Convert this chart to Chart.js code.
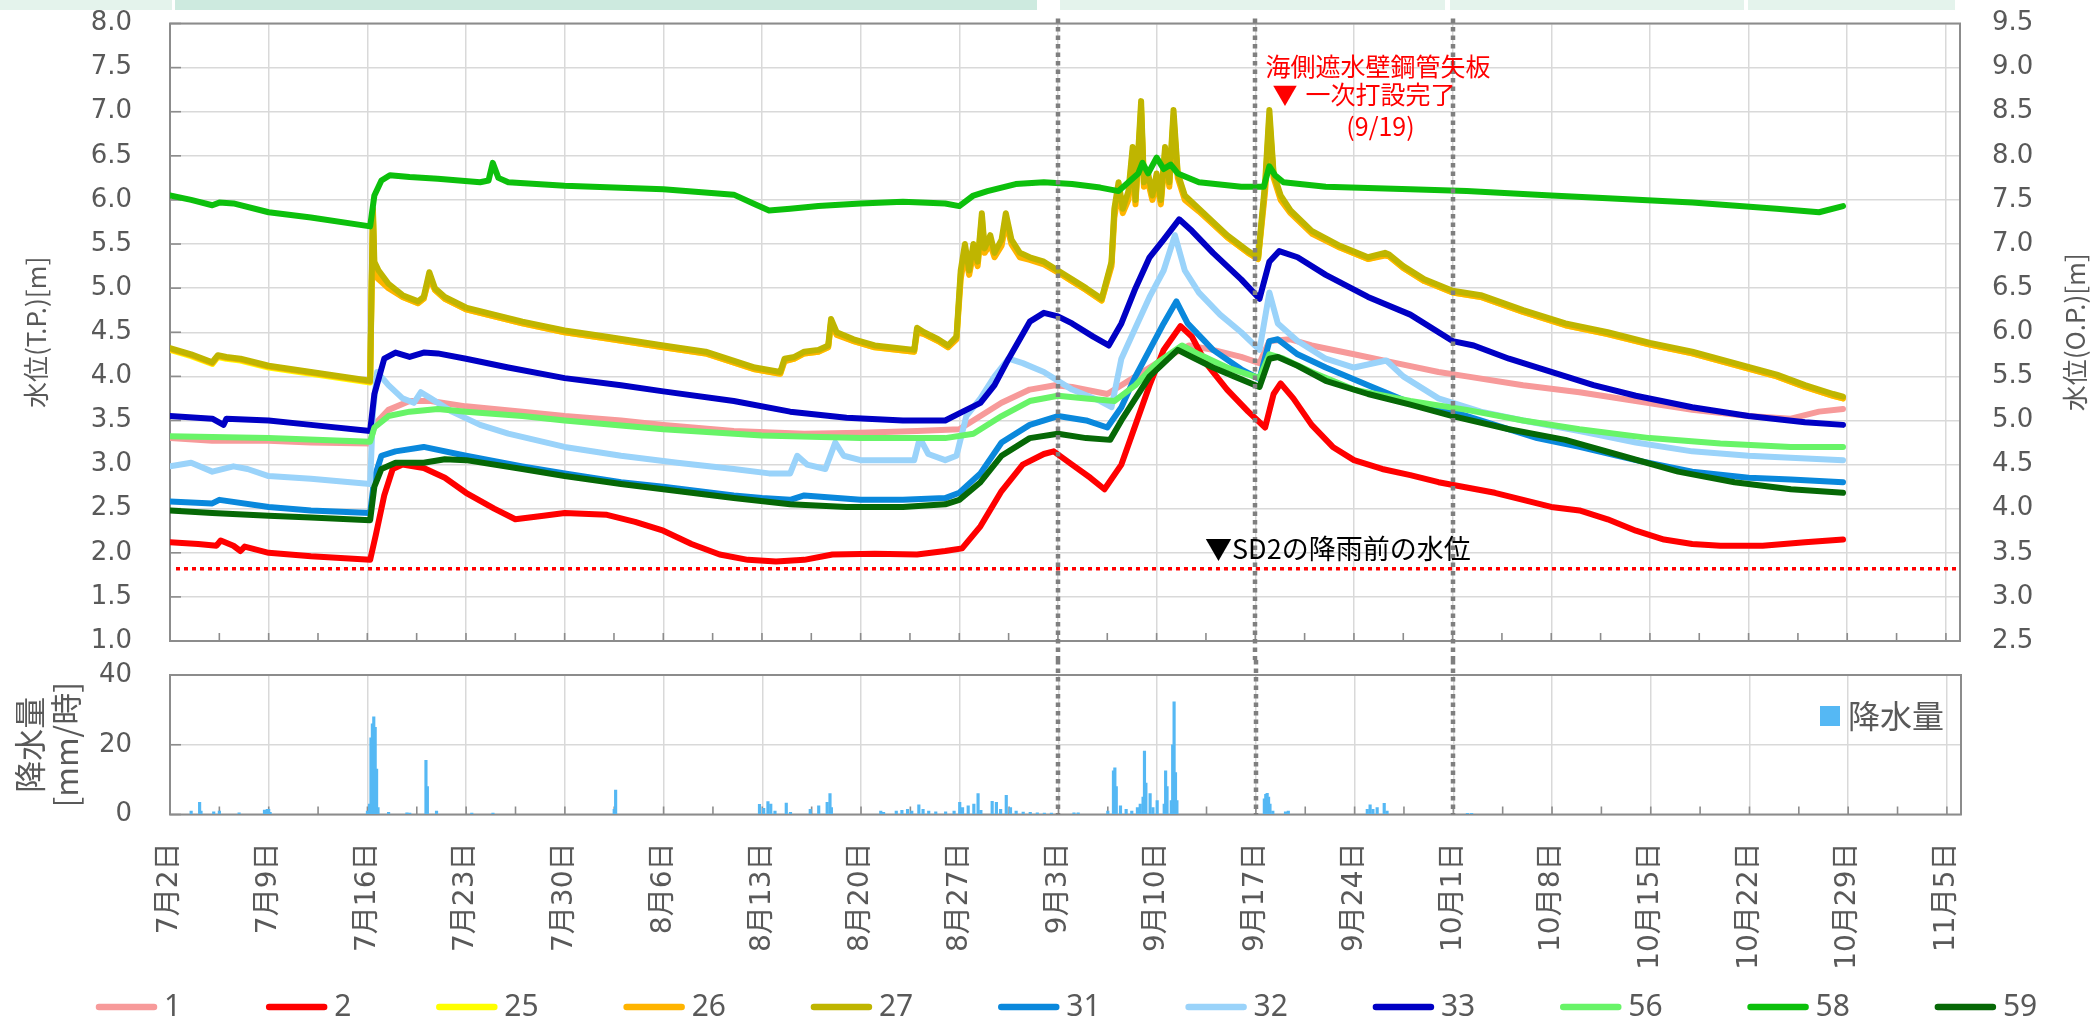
<!DOCTYPE html>
<html lang="ja">
<head>
<meta charset="utf-8">
<title>地下水位・降水量の推移</title>
<script src="https://cdn.jsdelivr.net/npm/chart.js@4.4.1/dist/chart.umd.min.js"></script>
<style>
  html, body { margin: 0; padding: 0; background: #ffffff; }
  #page { position: relative; width: 2092px; height: 1021px; overflow: hidden; background: #ffffff; }
  .band { position: absolute; top: 0; height: 10px; }
  canvas { position: absolute; left: 0; }
</style>
</head>
<body>
<div id="page">
  <div class="band" style="left:0;width:172px;background:#e4f3ec"></div>
  <div class="band" style="left:175px;width:862px;background:#cdeadf"></div>
  <div class="band" style="left:1060px;width:385px;background:#e4f3ec"></div>
  <div class="band" style="left:1450px;width:294px;background:#e4f3ec"></div>
  <div class="band" style="left:1748px;width:207px;background:#e4f3ec"></div>
  <canvas id="levelChart" width="2092" height="660" style="top:0;width:2092px;height:660px"></canvas>
  <canvas id="rainChart" width="2092" height="361" style="top:660px;width:2092px;height:361px"></canvas>
</div>
<script>
// ---- observation wells (x = days since 7/2, y = water level T.P. [m]) ----
const seriesNames  = ['1', '2', '25', '26', '27', '31', '32', '33', '56', '58', '59'];
const seriesColors = ['#f79a9a', '#ff0000', '#ffff00', '#ffb400', '#bfb500', '#0a88dc',
                      '#9ad3fa', '#0000c4', '#68f468', '#0cc00c', '#066806'];

const s1 = [[0,3.3],[3,3.27],[7,3.27],[10,3.25],[14.2,3.24],[14.5,3.45],[15.5,3.62],[17,3.72],[18.5,3.72],[21,3.66],
  [25,3.6],[28,3.55],[32,3.5],[35,3.45],[40,3.38],[45,3.35],[49,3.36],[53,3.38],[56,3.4],[57.5,3.55],[59,3.7],
  [61,3.85],[62.8,3.9],[64,3.88],[66.5,3.8],[67.5,3.9],[69,4.05],[70.5,4.2],[72.3,4.35],[74,4.3],[76,4.22],[77.3,4.15],
  [78,4.4],[79.5,4.42],[81,4.35],[84,4.25],[87,4.15],[90,4.05],[92,4.0],[96,3.9],[100,3.82],[104,3.72],[108,3.62],
  [112,3.55],[115,3.52],[117,3.6],[118.7,3.63]];

const s2 = [[0,2.12],[2,2.1],[3.3,2.08],[3.6,2.14],[4.5,2.08],[5,2.02],[5.3,2.07],[7,2.0],[10,1.96],[14.2,1.92],
  [14.6,2.2],[15.2,2.65],[15.8,2.95],[16.5,3.0],[18,2.96],[19.5,2.85],[21,2.68],[23,2.5],[24.5,2.38],[26.5,2.42],
  [28,2.45],[31,2.43],[33,2.35],[35,2.25],[37,2.1],[39,1.98],[41,1.92],[43,1.9],[45,1.92],[47,1.98],[50,1.99],
  [53,1.98],[55,2.02],[56.2,2.05],[57.5,2.3],[59,2.7],[60.5,3.0],[62,3.12],[62.7,3.15],[64,3.0],[65.3,2.85],
  [66.3,2.72],[67.5,3.0],[68.5,3.45],[69.5,3.9],[70.5,4.3],[71.7,4.57],[72.5,4.45],[73.5,4.15],[75,3.85],
  [76.5,3.6],[77.7,3.42],[78.3,3.8],[78.8,3.92],[79.7,3.75],[81,3.45],[82.5,3.2],[84,3.05],[86,2.95],[88,2.88],
  [90,2.8],[92,2.74],[94,2.68],[96,2.6],[98,2.52],[100,2.48],[102,2.38],[104,2.25],[106,2.15],[108,2.1],
  [110,2.08],[113,2.08],[116,2.12],[118.7,2.15]];

// wells 25, 26 and 27 share one logger schedule
const days27 = [0,1.5,3,3.4,4,5,7,10,14.2,14.3,
  14.4,14.5,14.8,15.5,16.5,17.6,18.0,18.4,18.8,19.5,
  21,23,25,28,31,35,38,41.5,43.3,43.6,
  44.3,45,46,46.7,46.9,47.3,48.5,50,52.8,53.0,
  53.5,54.5,55.2,55.8,56.1,56.4,56.7,57.0,57.3,57.6,
  57.8,58.2,58.5,59.0,59.3,59.7,60.3,61,62,63,
  64,65,66.1,66.8,67.0,67.3,67.6,68.0,68.3,68.5,
  68.9,69.1,69.4,69.7,70,70.3,70.6,70.9,71.2,71.5,
  72,73,75,76.5,77.2,77.7,78.0,78.3,78.8,79.5,
  81,83,85,86.2,86.5,87.5,89,91,93,96,
  99,102,105,108,111,114,116,118,118.7];
const v25 = [4.3,4.23,4.14,4.22,4.2,4.18,4.1,4.03,3.93,4.95,
  5.85,5.2,5.12,5.02,4.9,4.83,4.88,5.15,4.98,4.88,
  4.76,4.68,4.6,4.5,4.43,4.33,4.26,4.08,4.03,4.18,
  4.2,4.26,4.28,4.33,4.62,4.48,4.4,4.33,4.28,4.52,
  4.48,4.4,4.33,4.43,5.15,5.45,5.18,5.45,5.28,5.8,
  5.43,5.55,5.38,5.5,5.8,5.52,5.38,5.33,5.28,5.18,
  5.08,4.98,4.86,5.28,5.85,6.15,5.88,6.05,6.55,5.98,
  7.05,6.18,6.25,6.02,6.25,5.98,6.55,6.18,6.95,6.28,
  6.03,5.88,5.58,5.4,5.33,6.15,6.95,6.28,6.03,5.86,
  5.63,5.46,5.33,5.38,5.36,5.23,5.08,4.95,4.9,4.73,
  4.58,4.48,4.36,4.26,4.13,4.0,3.88,3.78,3.75];
const v26 = [4.31,4.24,4.15,4.23,4.21,4.19,4.11,4.04,3.94,4.9,
  5.8,5.15,5.1,5.0,4.9,4.83,4.88,5.12,4.98,4.88,
  4.76,4.68,4.6,4.5,4.43,4.33,4.26,4.08,4.03,4.17,
  4.2,4.26,4.28,4.33,4.6,4.47,4.4,4.33,4.28,4.5,
  4.48,4.4,4.33,4.42,5.1,5.4,5.15,5.4,5.25,5.7,
  5.4,5.5,5.35,5.48,5.75,5.5,5.35,5.32,5.27,5.18,
  5.08,4.98,4.86,5.25,5.8,6.1,5.85,6.0,6.5,5.95,
  7.0,6.15,6.2,6.0,6.2,5.95,6.5,6.15,6.9,6.25,
  6.0,5.87,5.58,5.4,5.33,6.1,6.9,6.25,6.0,5.85,
  5.62,5.46,5.33,5.37,5.36,5.23,5.08,4.95,4.9,4.73,
  4.58,4.48,4.36,4.26,4.13,4.0,3.88,3.78,3.75];
const v27 = [4.32,4.25,4.16,4.24,4.22,4.2,4.12,4.05,3.95,5.0,
  5.9,5.3,5.2,5.05,4.92,4.85,4.9,5.18,5.0,4.9,
  4.78,4.7,4.62,4.52,4.45,4.35,4.28,4.1,4.05,4.2,
  4.22,4.28,4.3,4.35,4.65,4.5,4.42,4.35,4.3,4.55,
  4.5,4.42,4.35,4.45,5.2,5.5,5.2,5.5,5.3,5.85,
  5.45,5.6,5.4,5.55,5.85,5.55,5.4,5.35,5.3,5.2,
  5.1,5.0,4.88,5.3,5.9,6.2,5.9,6.1,6.6,6.0,
  7.12,6.2,6.3,6.05,6.3,6.0,6.6,6.2,7.02,6.3,
  6.05,5.9,5.6,5.42,5.35,6.2,7.02,6.3,6.05,5.88,
  5.65,5.48,5.35,5.4,5.38,5.25,5.1,4.97,4.92,4.75,
  4.6,4.5,4.38,4.28,4.15,4.02,3.9,3.8,3.77];

const s31 = [[0,2.58],[3,2.56],[3.5,2.6],[7,2.52],[10,2.48],[14.2,2.45],[14.5,2.85],[15,3.1],[16,3.15],[18,3.2],
  [21,3.1],[25,2.98],[28,2.9],[32,2.8],[35,2.75],[40,2.65],[42,2.62],[44,2.6],[45,2.65],[49,2.6],[52,2.6],
  [55,2.62],[56,2.68],[57.5,2.9],[59,3.25],[61,3.45],[63,3.55],[65,3.5],[66.5,3.42],[67.5,3.65],[68.5,4.0],
  [69.5,4.3],[70.5,4.6],[71.4,4.85],[72.2,4.6],[74,4.3],[76,4.08],[77.3,3.97],[78,4.4],[78.6,4.42],[80,4.25],
  [82,4.1],[85,3.9],[88,3.7],[91,3.6],[94,3.45],[97,3.3],[100,3.2],[104,3.05],[108,2.92],[112,2.85],
  [115,2.83],[118.7,2.8]];

const s32 = [[0,2.98],[1.5,3.02],[3,2.92],[4.5,2.98],[5.5,2.95],[7,2.87],[10,2.84],[14.2,2.78],[14.4,3.6],[14.7,4.05],
  [15.5,3.9],[16.5,3.75],[17.3,3.7],[17.8,3.82],[18.5,3.75],[20,3.6],[22,3.45],[24,3.35],[28,3.2],[32,3.1],
  [36,3.02],[40,2.95],[42.5,2.9],[44,2.9],[44.5,3.1],[45.2,3.0],[46.5,2.95],[47.2,3.25],[47.8,3.1],[49,3.05],
  [51,3.05],[52.8,3.05],[53.2,3.3],[53.8,3.12],[55,3.05],[55.8,3.1],[56.5,3.55],[57.5,3.75],[58.5,4.0],[59.5,4.2],
  [60.5,4.15],[62,4.05],[64,3.85],[66,3.72],[66.8,3.65],[67.5,4.2],[68.5,4.55],[69.5,4.9],[70.5,5.2],[71.3,5.6],
  [72,5.2],[73,4.95],[74.5,4.7],[76,4.5],[77.3,4.3],[78,4.95],[78.6,4.6],[80,4.4],[82,4.2],[84,4.1],[86.3,4.18],
  [87.5,4.0],[90,3.75],[93,3.6],[96,3.5],[100,3.38],[104,3.25],[108,3.15],[112,3.1],[118.7,3.05]];

const s33 = [[0,3.55],[3,3.52],[3.8,3.45],[4,3.52],[7,3.5],[10,3.45],[14.2,3.38],[14.5,3.8],[15.2,4.2],[16,4.27],
  [17,4.22],[18,4.27],[19,4.26],[21,4.2],[24,4.1],[28,3.98],[32,3.9],[35,3.83],[40,3.72],[44,3.6],[48,3.53],
  [52,3.5],[55,3.5],[56,3.58],[57.5,3.7],[58.5,3.9],[59.5,4.2],[61,4.62],[62,4.72],[63,4.68],[64,4.6],[65.5,4.45],
  [66.6,4.35],[67.5,4.6],[68.5,5.0],[69.5,5.35],[70.5,5.55],[71.6,5.78],[72.5,5.65],[74,5.4],[76,5.1],[77.3,4.88],
  [78,5.3],[78.7,5.42],[80,5.35],[82,5.15],[85,4.9],[88,4.7],[91,4.4],[92.5,4.35],[95,4.2],[98,4.05],[101,3.9],
  [104,3.78],[108,3.65],[112,3.55],[116,3.48],[118.7,3.45]];

const s56 = [[0,3.32],[7,3.3],[14.2,3.26],[14.5,3.42],[15.5,3.55],[17,3.6],[19,3.63],[21,3.6],[25,3.55],[28,3.5],
  [35,3.4],[42,3.33],[49,3.3],[55,3.3],[57,3.35],[59,3.55],[61,3.72],[63,3.78],[65,3.75],[67,3.72],[68.5,3.9],
  [70,4.15],[71.8,4.35],[73,4.25],[75,4.1],[77.3,3.98],[78,4.25],[79,4.2],[81,4.05],[84,3.85],[88,3.72],[92,3.62],
  [96,3.5],[100,3.4],[105,3.3],[110,3.24],[115,3.2],[118.7,3.2]];

const s58 = [[0,6.05],[1.5,6.0],[3,5.94],[3.5,5.97],[4.5,5.96],[7,5.86],[10,5.8],[14.2,5.7],[14.5,6.05],[15,6.22],
  [15.6,6.28],[17,6.26],[19,6.24],[22,6.2],[22.6,6.22],[22.9,6.42],[23.3,6.25],[24,6.2],[28,6.16],[35,6.12],
  [40,6.06],[41.5,5.95],[42.5,5.88],[44,5.9],[46,5.93],[49,5.96],[52,5.98],[55,5.96],[56,5.93],[57,6.05],[58,6.1],
  [60,6.18],[62,6.2],[64,6.18],[66,6.14],[67.3,6.1],[68,6.2],[68.7,6.3],[69,6.42],[69.4,6.3],[70,6.48],[70.5,6.35],
  [71,6.4],[71.5,6.3],[73,6.2],[76,6.15],[77.6,6.15],[78.0,6.38],[78.4,6.28],[79,6.2],[82,6.15],[88,6.12],
  [92,6.1],[98,6.05],[102,6.02],[108,5.97],[114,5.9],[117,5.86],[118.7,5.93]];

const s59 = [[0,2.48],[3,2.45],[7,2.42],[10,2.4],[14.2,2.37],[14.5,2.75],[15,2.95],[16,3.02],[18,3.02],[19.5,3.06],
  [21,3.05],[25,2.95],[28,2.87],[32,2.78],[35,2.72],[40,2.62],[44,2.55],[48,2.52],[52,2.52],[55,2.55],[56,2.6],
  [57.5,2.8],[59,3.1],[61,3.3],[63,3.35],[65,3.3],[66.7,3.28],[67.5,3.5],[68.5,3.75],[69.5,4.0],[70.5,4.15],
  [71.5,4.3],[72.5,4.22],[74,4.1],[75.5,4.0],[77.3,3.88],[78,4.2],[78.6,4.22],[80,4.12],[82,3.95],[85,3.8],[88,3.68],
  [91,3.55],[95,3.4],[99,3.28],[103,3.1],[107,2.92],[111,2.8],[115,2.72],[118.7,2.68]];

// hourly rainfall [mm/h] (x = days since 7/2)
const rain = [[1.5,1.0],[2.1,3.5],[2.2,1.0],[3.1,0.8],[3.5,1.0],[4.9,0.5],[6.7,1.3],[6.9,1.5],[7.0,1.5],[7.1,0.6],
  [14.0,1.0],[14.15,3],[14.25,22],[14.35,26],[14.45,28],[14.55,25],[14.65,13],[14.75,2],[15.5,0.6],[16.8,0.5],
  [17.0,0.4],[18.15,15.5],[18.25,8],[18.9,1.0],[21.4,0.4],[22.9,0.4],[31.5,1.5],[31.6,7.0],
  [41.8,2.9],[42.1,1.8],[42.4,3.7],[42.6,3.0],[42.9,1.0],[43.7,3.3],[44.0,0.6],[45.4,1.5],[46.0,2.5],[46.6,3.5],
  [46.8,6.0],[46.9,2.0],[50.4,1.0],[50.6,0.6],[51.5,1.0],[51.9,1.2],[52.3,1.5],[52.6,1.0],[53.1,2.8],[53.4,1.5],
  [53.8,1.0],[54.3,0.8],[55.0,0.8],[55.6,1.0],[56.0,3.5],[56.2,2.0],[56.6,2.5],[57.0,3.0],[57.3,6.0],[57.5,1.2],
  [58.3,3.8],[58.6,3.5],[58.9,1.5],[59.3,5.5],[59.6,2.0],[60.0,1.0],[60.5,0.7],[61.0,0.6],[61.5,0.5],[62.0,0.4],
  [62.5,0.4],[64.1,0.5],[64.4,0.5],[66.5,1.0],[66.9,12.5],[67.0,13.4],[67.1,8.0],[67.4,2.5],[67.8,1.5],[68.2,1.0],
  [68.6,2.0],[68.8,3.0],[69.0,5.0],[69.1,18.2],[69.2,9.0],[69.5,6.0],[69.7,2.0],[70.0,4.0],[70.5,3.0],[70.6,12.5],
  [70.7,8.0],[71.0,4.0],[71.1,20.0],[71.2,32.3],[71.3,12.0],[71.4,4.0],[77.6,4.5],[77.7,5.8],[77.8,6.1],[77.9,5.0],
  [78.0,3.0],[78.2,1.0],[79.1,0.8],[79.3,1.0],[84.9,1.5],[85.1,2.8],[85.3,1.5],[85.6,2.0],[86.1,3.2],[86.3,1.0],
  [92.0,0.3],[92.3,0.3]];

// axes and reference marks
const startDate = [2015, 7, 2];        // day 0
const dayRange = [0, 127];
const dayStep = 7;
const levelRangeTP = [1, 8];
const levelRangeOP = [2.5, 9.5];
const levelStep = 0.5;
const rainRange = [0, 40];
const rainStep = 20;
const markerDays = [63, 77, 91];       // 9/3, 9/17, 10/1
const sd2Level = 1.82;                 // SD2 level before rainfall
const pileDoneDay = 79;                // 9/19

const toPoints = pairs => pairs.map(([x, y]) => ({ x, y }));
const zipDays = (days, vals) => days.map((d, i) => ({ x: d, y: vals[i] }));
const seriesValues = [toPoints(s1), toPoints(s2), zipDays(days27, v25), zipDays(days27, v26), zipDays(days27, v27),
  toPoints(s31), toPoints(s32), toPoints(s33), toPoints(s56), toPoints(s58), toPoints(s59)];

function dayLabel(d) {
  const dt = new Date(Date.UTC(startDate[0], startDate[1] - 1, startDate[2] + d));
  return (dt.getUTCMonth() + 1) + '月' + dt.getUTCDate() + '日';
}

const FONT_NUM = "'DejaVu Sans', 'Noto Sans CJK JP', sans-serif";
const FONT_JP = "'Noto Sans CJK JP', sans-serif";
const GRID = '#d9d9d9';
const FRAME = '#8c8c8c';
const TEXT = '#595959';

Chart.defaults.font.family = FONT_NUM;
Chart.defaults.color = TEXT;

// fixed axis box; labels may overhang the plot edges without shrinking it
const fixWidth = w => s => { s.width = w; s.paddingTop = 0; s.paddingBottom = 0; };

// plot frame plus the short inside tick marks
const framePlugin = {
  id: 'frame',
  beforeDatasetsDraw(chart, args, opts) {
    const { ctx, chartArea: a } = chart;
    const xs = chart.scales.x, ys = chart.scales.y;
    ctx.save();
    ctx.strokeStyle = FRAME;
    ctx.lineWidth = 1.6;
    for (let d = xs.min; d <= xs.max; d += opts.minorStep) {
      const px = xs.getPixelForValue(d);
      ctx.beginPath(); ctx.moveTo(px, a.bottom); ctx.lineTo(px, a.bottom - 8); ctx.stroke();
    }
    ys.ticks.forEach(t => {
      const py = ys.getPixelForValue(t.value);
      ctx.beginPath(); ctx.moveTo(a.left, py); ctx.lineTo(a.left + 11, py); ctx.stroke();
    });
    ctx.lineWidth = 2;
    ctx.strokeRect(a.left, a.top, a.right - a.left, a.bottom - a.top);
    ctx.restore();
  }
};

// dotted event lines crossing both panels
function drawMarkers(chart, top, bottom) {
  const { ctx } = chart;
  const xs = chart.scales.x;
  ctx.save();
  ctx.strokeStyle = '#7f7f7f';
  ctx.lineWidth = 4.5;
  ctx.setLineDash([4.5, 4]);
  markerDays.forEach(d => {
    const px = Math.round(xs.getPixelForValue(d));
    ctx.beginPath(); ctx.moveTo(px, top); ctx.lineTo(px, bottom); ctx.stroke();
  });
  ctx.restore();
}

const levelOverlay = {
  id: 'levelOverlay',
  afterDatasetsDraw(chart) {
    const { ctx, chartArea: a } = chart;
    const xs = chart.scales.x, ys = chart.scales.y;
    drawMarkers(chart, a.top - 5, chart.height);

    // SD2 pre-rain level
    const yb = ys.getPixelForValue(sd2Level);
    ctx.save();
    ctx.strokeStyle = '#ff0000';
    ctx.lineWidth = 3.5;
    ctx.setLineDash([4, 4]);
    ctx.beginPath(); ctx.moveTo(a.left + 6, yb); ctx.lineTo(a.right, yb); ctx.stroke();
    ctx.setLineDash([]);

    ctx.textBaseline = 'middle';
    ctx.fillStyle = '#000000';
    ctx.font = "27px 'Noto Sans CJK JP'";
    ctx.textAlign = 'left';
    ctx.fillText('▼SD2の降雨前の水位', 1205, yb - 20);

    // steel sheet pile completion note
    const pp = xs.getPixelForValue(pileDoneDay);
    ctx.fillStyle = '#ff0000';
    ctx.font = "25px 'Noto Sans CJK JP'";
    ctx.fillText('海側遮水壁鋼管矢板', pp - 18, ys.getPixelForValue(7.51));
    ctx.fillText('▼', pp - 11, ys.getPixelForValue(7.19));
    ctx.fillText('一次打設完了', pp + 22, ys.getPixelForValue(7.19));
    ctx.textAlign = 'center';
    ctx.fillText('(9/19)', pp + 97, ys.getPixelForValue(6.83));

    // right axis title
    ctx.fillStyle = TEXT;
    ctx.font = "26px 'Noto Sans CJK JP'";
    ctx.translate(2075, (a.top + a.bottom) / 2);
    ctx.rotate(-Math.PI / 2);
    ctx.fillText('水位(O.P.)[m]', 0, 0);
    ctx.restore();
  }
};

const rainOverlay = {
  id: 'rainOverlay',
  afterDatasetsDraw(chart) {
    const { ctx, chartArea: a } = chart;
    drawMarkers(chart, 0, a.bottom);
    ctx.save();
    // in-plot legend
    ctx.fillStyle = '#55b8f4';
    ctx.fillRect(1820, 46, 20, 20);
    ctx.fillStyle = TEXT;
    ctx.font = "32px 'Noto Sans CJK JP'";
    ctx.textBaseline = 'middle';
    ctx.textAlign = 'left';
    ctx.fillText('降水量', 1848, 56);

    // series legend along the bottom edge
    const y = 347;
    let x = 96;
    ctx.font = "30px 'Noto Sans'";
    ctx.lineCap = 'round';
    ctx.lineWidth = 6.5;
    seriesNames.forEach((name, i) => {
      ctx.strokeStyle = seriesColors[i];
      ctx.beginPath(); ctx.moveTo(x + 3, y); ctx.lineTo(x + 58, y); ctx.stroke();
      ctx.fillStyle = TEXT;
      ctx.fillText(name, x + 68, y);
      x = x + 68 + ctx.measureText(name).width + 85;
    });
    ctx.restore();
  }
};

const common = {
  responsive: false,
  animation: false,
  devicePixelRatio: 1,
  events: [],
  plugins: { legend: { display: false }, tooltip: { enabled: false } }
};

new Chart(document.getElementById('levelChart'), {
  type: 'line',
  data: {
    datasets: seriesNames.map((name, i) => ({
      label: name,
      data: seriesValues[i],
      borderColor: seriesColors[i],
      backgroundColor: seriesColors[i],
      borderWidth: 6,
      pointRadius: 0,
      tension: 0,
      borderJoinStyle: 'round',
      borderCapStyle: 'round',
      order: seriesNames.length - i,
      yAxisID: 'y'
    }))
  },
  options: {
    ...common,
    layout: { autoPadding: false, padding: { top: 23.5, left: 0, right: 0, bottom: 0 } },
    plugins: { ...common.plugins, frame: { minorStep: 3.5 } },
    scales: {
      x: {
        type: 'linear', min: dayRange[0], max: dayRange[1],
        ticks: { display: false, stepSize: dayStep, includeBounds: false },
        grid: { color: GRID, lineWidth: 1.5, drawTicks: false },
        border: { display: false },
        afterFit: s => { s.height = 19; s.paddingLeft = 0; s.paddingRight = 0; }
      },
      y: {
        position: 'left', min: levelRangeTP[0], max: levelRangeTP[1],
        ticks: { stepSize: levelStep, callback: v => v.toFixed(1), font: { size: 26 }, color: TEXT, padding: 38 },
        grid: { color: GRID, lineWidth: 1.5, drawTicks: false },
        border: { display: false },
        title: { display: true, text: '水位(T.P.)[m]', color: TEXT,
                 font: { family: FONT_JP, size: 26 }, padding: { top: 21, bottom: 0 } },
        afterFit: fixWidth(170)
      },
      y2: {
        position: 'right', min: levelRangeOP[0], max: levelRangeOP[1],
        ticks: { stepSize: levelStep, callback: v => v.toFixed(1), font: { size: 26 }, color: TEXT, padding: 32 },
        grid: { drawOnChartArea: false, drawTicks: false },
        border: { display: false },
        afterFit: fixWidth(132)
      }
    }
  },
  plugins: [framePlugin, levelOverlay]
});

new Chart(document.getElementById('rainChart'), {
  type: 'bar',
  data: {
    datasets: [{
      label: '降水量',
      data: toPoints(rain),
      backgroundColor: '#55b8f4',
      barThickness: 2.5,
      grouped: false
    }]
  },
  options: {
    ...common,
    layout: { autoPadding: false, padding: { top: 15, left: 0, right: 131, bottom: 0 } },
    plugins: { ...common.plugins, frame: { minorStep: 3.5 } },
    scales: {
      x: {
        type: 'linear', min: dayRange[0], max: dayRange[1], offset: false,
        ticks: { stepSize: dayStep, includeBounds: false, autoSkip: false, minRotation: 90, maxRotation: 90,
                 padding: 28, callback: v => dayLabel(v), font: { size: 28 }, color: TEXT },
        grid: { color: GRID, lineWidth: 1.5, drawTicks: false, offset: false },
        border: { display: false },
        afterFit: s => { s.height = 206.5; s.paddingLeft = 0; s.paddingRight = 0; }
      },
      y: {
        min: rainRange[0], max: rainRange[1],
        ticks: { stepSize: rainStep, font: { size: 26 }, color: TEXT, padding: 38 },
        grid: { color: GRID, lineWidth: 1.5, drawTicks: false },
        border: { display: false },
        title: { display: true, text: ['降水量', '[mm/時]'], color: TEXT,
                 font: { family: FONT_JP, size: 32, lineHeight: 1.15 }, padding: { top: 11, bottom: 0 } },
        afterFit: fixWidth(170)
      }
    }
  },
  plugins: [framePlugin, rainOverlay]
});
</script>
</body>
</html>
